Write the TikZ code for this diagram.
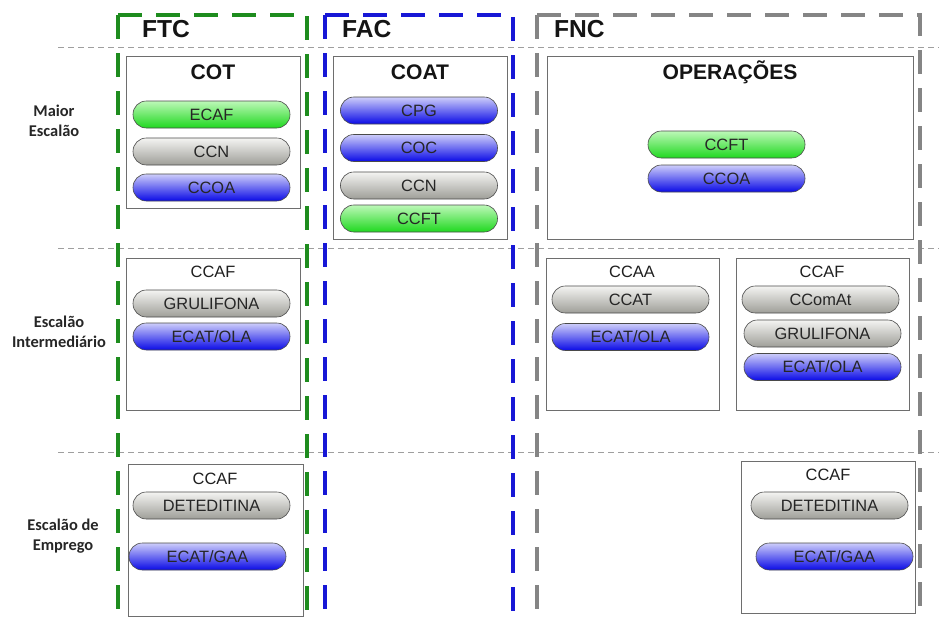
\documentclass[tikz,border=0pt]{standalone}
\usepackage{fontspec}
\setmainfont{Liberation Sans}
\newfontfamily\rowfont{Carlito}
\usetikzlibrary{positioning}
\definecolor{ftcgreen}{HTML}{1E8C1E}
\definecolor{facblue}{HTML}{1717D6}
\definecolor{fncgray}{HTML}{858585}
\definecolor{panelline}{HTML}{6E6E6E}
\definecolor{pillline}{HTML}{4A4A4A}
\definecolor{greentop}{HTML}{BDF8B8}
\definecolor{greenbot}{HTML}{1FD81F}
\definecolor{bluetop}{HTML}{CDCDFA}
\definecolor{bluebot}{HTML}{0A0AE6}
\definecolor{graytop}{HTML}{F4F4F2}
\definecolor{graybot}{HTML}{9E9E98}

\tikzset{
  groupframe/.style={line width=1.2mm, dash pattern=on 7.2mm off 4.2mm},
  rowline/.style={draw=gray!75, line width=0.3mm, dash pattern=on 1.8mm off 1.2mm},
  panel/.style 2 args={draw=panelline, line width=0.6pt, fill=white, anchor=north west,
    minimum width=#1*0.3mm, minimum height=#2*0.3mm, inner sep=0pt},
  paneltitle/.style={font=\bfseries\fontsize{18}{20}\selectfont, text=black!92},
  panelsub/.style={font=\fontsize{14}{16}\selectfont, text=black!88},
  pill/.style={draw=pillline, line width=0.5pt, rounded corners=4mm,
    minimum width=47.1mm, minimum height=8.1mm, inner sep=0pt,
    font=\fontsize{14}{16}\selectfont, text=black!85},
  greenpill/.style={pill, top color=greentop, bottom color=greenbot},
  bluepill/.style={pill, top color=bluetop, bottom color=bluebot},
  graypill/.style={pill, top color=graytop, bottom color=graybot},
  grouplabel/.style={anchor=west, font=\bfseries\fontsize{21}{23}\selectfont, text=black!92},
  rowlabel/.style={align=center, font=\rowfont\bfseries\fontsize{14}{17}\selectfont, text=black!85}
}

\begin{document}
\begin{tikzpicture}[x=0.3mm, y=-0.3mm]
  \useasboundingbox (0,0) rectangle (939,617);
  \clip (0,0) rectangle (939,617);

  % faixas de escalao
  \draw[rowline] (58,47.5) -- (939,47.5);
  \draw[rowline] (58,248.5) -- (939,248.5);
  \draw[rowline] (58,452.5) -- (939,452.5);

  \node[rowlabel] (maior) at (54,121) {Maior\\Escal\~ao};
  \node[rowlabel] (inter) at (59,332) {Escal\~ao\\Intermedi\'ario};
  \node[rowlabel] (emprego) at (63,536) {Escal\~ao de\\Emprego};

  % forcas
  \draw[groupframe, ftcgreen] (118,15) -- (118,640) (118,15) -- (307,15) -- (307,640);
  \draw[groupframe, facblue] (325,15) -- (325,640) (325,15) -- (513,15) -- (513,640);
  \draw[groupframe, fncgray] (537,15) -- (537,640) (537,15) -- (920,15) -- (920,640);
  \node[grouplabel] (ftc) at (138,29.5) {FTC};
  \node[grouplabel] (fac) at (338,29.5) {FAC};
  \node[grouplabel] (fnc) at (550,29.5) {FNC};

  % maior escalao
  \node[panel={174}{152}] (cot) at (126,56) {};
  \node[paneltitle] (cottitle) at (213,72.5) {COT};
  \node[greenpill] (cotecaf) at (211.5,114.5) {ECAF};
  \node[graypill] (cotccn) at (211.5,151.5) {CCN};
  \node[bluepill] (cotccoa) at (211.5,187.5) {CCOA};

  \node[panel={174}{183}] (coat) at (333,56) {};
  \node[paneltitle] (coattitle) at (420,72.5) {COAT};
  \node[bluepill] (coatcpg) at (419,110.5) {CPG};
  \node[bluepill] (coatcoc) at (419,148) {COC};
  \node[graypill] (coatccn) at (419,185.5) {CCN};
  \node[greenpill] (coatccft) at (419,218.5) {CCFT};

  \node[panel={366}{183}] (oper) at (547,56) {};
  \node[paneltitle] (opertitle) at (730,72.5) {OPERAÇÕES};
  \node[greenpill] (operccft) at (726.5,144.5) {CCFT};
  \node[bluepill] (operccoa) at (726.5,178.5) {CCOA};

  % escalao intermediario
  \node[panel={174}{152}] (ccafftc) at (126,258) {};
  \node[panelsub] (ccafftctitle) at (213,272) {CCAF};
  \node[graypill] (ccafftcgru) at (211.5,303.5) {GRULIFONA};
  \node[bluepill] (ccafftcecat) at (211.5,336.5) {ECAT/OLA};

  \node[panel={173}{152}] (ccaa) at (546,258) {};
  \node[panelsub] (ccaatitle) at (632,272) {CCAA};
  \node[graypill] (ccaaccat) at (630.5,299.5) {CCAT};
  \node[bluepill] (ccaaecat) at (630.5,337) {ECAT/OLA};

  \node[panel={173}{152}] (ccaffnc) at (736,258) {};
  \node[panelsub] (ccaffnctitle) at (822,272) {CCAF};
  \node[graypill] (ccaffnccomat) at (820.5,299.5) {CComAt};
  \node[graypill] (ccaffncgru) at (822.5,333.5) {GRULIFONA};
  \node[bluepill] (ccaffncecat) at (822.5,367) {ECAT/OLA};

  % escalao de emprego
  \node[panel={175}{152}] (empftc) at (128,464) {};
  \node[panelsub] (empftctitle) at (215,479) {CCAF};
  \node[graypill] (empftcdet) at (211.5,505.5) {DETEDITINA};
  \node[bluepill] (empftcecat) at (207.5,556.5) {ECAT/GAA};

  \node[panel={174}{152}] (empfnc) at (741,461) {};
  \node[panelsub] (empfnctitle) at (828,475) {CCAF};
  \node[graypill] (empfncdet) at (829.5,505.5) {DETEDITINA};
  \node[bluepill] (empfncecat) at (834.5,556.5) {ECAT/GAA};
\end{tikzpicture}
\end{document}
